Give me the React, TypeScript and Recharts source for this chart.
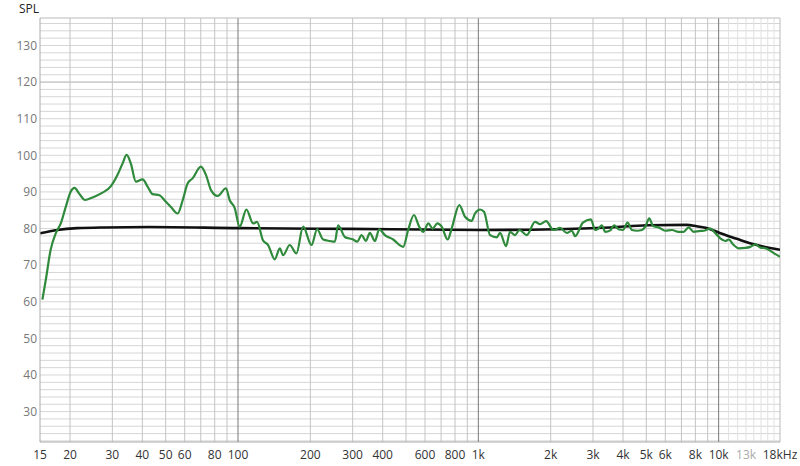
import { LineChart, Line, XAxis, YAxis, ReferenceLine } from 'recharts';

// measured response (Hz / dB SPL)
const measuredFreq = [
  15.35, 15.85, 16.6, 17.45, 18.3, 19.2, 20.1, 20.9, 21.8, 23.1, 24.8, 27.3, 29.6, 31.5, 33.1, 34.4,
  35.8, 37.6, 40.1, 42.1, 44.1, 47.1, 50.1, 52.6, 56.1, 58.9, 61.7, 64.7, 70.1, 73.6, 77.2, 82.3,
  89.1, 92.3, 96.9, 101.6, 108.4, 115.5, 120, 127, 133.4, 142.2, 149.3, 154, 164.2, 175, 186.6,
  202.2, 213.4, 226, 241, 253, 261, 278.3, 301.5, 313.3, 326.8, 340.5, 353.6, 371.5, 386.7, 408.5,
  442.2, 487, 510.6, 539.6, 567.5, 590, 619.4, 645.7, 675, 704, 745.6, 774.5, 833.4, 880.5, 938.7,
  968.5, 1016.5, 1056, 1119, 1194, 1231, 1304, 1355, 1422, 1483, 1591, 1722, 1807, 1915, 2053,
  2188, 2334, 2449, 2528, 2723, 2939, 3064, 3162, 3266, 3374, 3539, 3675, 3831, 3997, 4178, 4358,
  4571, 4797, 4952, 5143, 5330, 5623, 5998, 6396, 6813, 7145, 7499, 7870, 8259, 8660, 9230, 9687,
  10160, 10660, 11010, 11550, 12120, 12910, 13550, 14220, 14920, 15650, 16420, 17230, 18000,
];
const measuredSpl = [
  60.6, 65.9, 74.1, 78.7, 81.4, 85.9, 90.0, 91.1, 89.6, 87.8, 88.5, 89.8, 91.6, 94.6, 97.8, 100.1,
  97.8, 92.8, 93.4, 91.4, 89.4, 89.1, 87.3, 85.9, 84.1, 87.8, 92.3, 93.7, 96.9, 94.6, 90.5, 88.9,
  91.0, 87.8, 85.6, 80.5, 85.2, 81.4, 81.8, 76.8, 75.5, 71.6, 74.6, 72.7, 75.5, 73.2, 80.5,
  75.5, 79.8, 77.0, 76.6, 76.4, 80.9, 77.7, 77.0, 76.4, 78.2, 76.6, 78.8, 76.6, 79.8, 78.2,
  77.0, 75.0, 79.6, 83.7, 80.5, 79.1, 81.4, 80.0, 81.4, 80.5, 77.0, 80.0, 86.4, 83.2, 82.1,
  84.1, 85.2, 84.6, 78.2, 77.6, 78.8, 75.2, 79.1, 78.2, 79.6, 78.2, 81.8, 81.2, 82.0, 79.6,
  80.2, 78.8, 79.4, 77.9, 81.6, 82.5, 79.6, 80.0, 80.9, 79.1, 79.5, 80.9, 79.8, 79.6, 81.6, 79.6,
  79.4, 79.6, 80.5, 82.8, 80.7, 80.3, 79.4, 79.6, 79.1, 79.1, 80.3, 79.1, 79.3, 79.4, 80.0, 78.7,
  77.3, 76.6, 77.0, 75.5, 74.6, 74.7, 75.0, 75.7, 74.8, 74.6, 73.9, 73.0, 72.3,
];

// target curve
const targetFreq = [15, 17.7, 21.4, 27.8, 42.8, 101.6, 291, 1020, 2100, 3540, 5040, 7370, 8100, 9180, 10100, 11900, 13500, 15300, 18000];
const targetSpl = [78.7, 79.6, 80.1, 80.3, 80.4, 80.1, 79.9, 79.6, 79.8, 80.3, 80.9, 81.0, 80.6, 79.9, 78.8, 77.2, 76.0, 75.1, 74.2];

const xTicks = [15, 20, 30, 40, 50, 60, 80, 100, 200, 300, 400, 600, 800, 1000, 2000, 3000, 4000, 5000, 6000, 8000, 10000, 13000, 18000];
const yTicks = [30, 40, 50, 60, 70, 80, 90, 100, 110, 120, 130];

const measured = measuredFreq.map((f, i) => ({ f, v: measuredSpl[i] }));
const target = targetFreq.map((f, i) => ({ f, v: targetSpl[i] }));

const vGrid: number[] = [];
for (const dec of [10, 100, 1000]) {
  for (let m = 1; m <= 9; m++) {
    const f = dec * m;
    if (f > 15 && f < 10000) vGrid.push(f);
  }
}
const hfGrid: number[] = [];
for (let f = 11000; f <= 17000; f += 1000) hfGrid.push(f);
const hGrid: number[] = [];
for (let v = 22; v <= 136; v += 2) hGrid.push(v);

const font = '"Open Sans", "Noto Sans", sans-serif';

function fmtFreq(f: number) {
  if (f === 18000) return '18kHz';
  return f >= 1000 ? `${f / 1000}k` : `${f}`;
}

function XTick(props: any) {
  const { x, y, payload } = props;
  const v = payload.value;
  return (
    <text x={x} y={y} dy="0.71em" textAnchor="middle" fontSize={12} fontFamily={font}
      fill={v === 13000 ? '#aaa' : '#333'}>
      {fmtFreq(v)}
    </text>
  );
}

function YTick(props: any) {
  const { x, y, payload } = props;
  return (
    <text x={x} y={y} dy="0.355em" textAnchor="end" fontSize={12} fontFamily={font} fill="#777">
      {payload.value}
    </text>
  );
}

export default function App() {
  return (
    <div style={{ position: 'absolute', left: 0, top: 0, width: 800, height: 466, background: '#fff' }}>
      <div style={{ position: 'absolute', left: 19, top: 0, fontFamily: font, fontSize: 12, color: '#222' }}>SPL</div>
      <LineChart width={800} height={466} margin={{ top: 18, right: 20, bottom: 0, left: 0 }}>
        <XAxis
          dataKey="f" type="number" scale="log" domain={[15, 18000]} allowDataOverflow
          ticks={xTicks} interval={0} tick={<XTick />} tickSize={0} tickMargin={8}
          height={24} axisLine={{ stroke: '#aaa' }} tickLine={false}
        />
        <YAxis
          type="number" domain={[21.7, 137.5]} allowDataOverflow ticks={yTicks} interval={0}
          tick={<YTick />} tickSize={0} tickMargin={3} width={40} axisLine={{ stroke: '#aaa' }} tickLine={false}
        />
        {hGrid.map(v => (
          <ReferenceLine key={'h' + v} y={v} stroke={v === 120 ? '#aaa' : '#d6d6d6'} strokeWidth={1} zIndex={-100} />
        ))}
        {hfGrid.map(f => (
          <ReferenceLine key={'hf' + f} x={f} stroke="#e2e2e2" strokeWidth={1} zIndex={-100} />
        ))}
        {vGrid.map(f => (
          <ReferenceLine key={'v' + f} x={f} stroke={f === 100 || f === 1000 ? '#777' : '#c4c4c4'} strokeWidth={1} zIndex={-100} />
        ))}
        <ReferenceLine x={10000} stroke="#777" strokeWidth={1} zIndex={-100} />
        <ReferenceLine x={18000} stroke="#bbb" strokeWidth={1} zIndex={-100} />
        <ReferenceLine y={137.5} stroke="#bbb" strokeWidth={1} zIndex={-100} />
        <Line data={target} dataKey="v" type="monotone" stroke="#111" strokeWidth={2.6} dot={false} isAnimationActive={false} />
        <Line data={measured} dataKey="v" type="monotone" stroke="#2f8a3c" strokeWidth={2.2} dot={false} isAnimationActive={false} />
      </LineChart>
    </div>
  );
}
